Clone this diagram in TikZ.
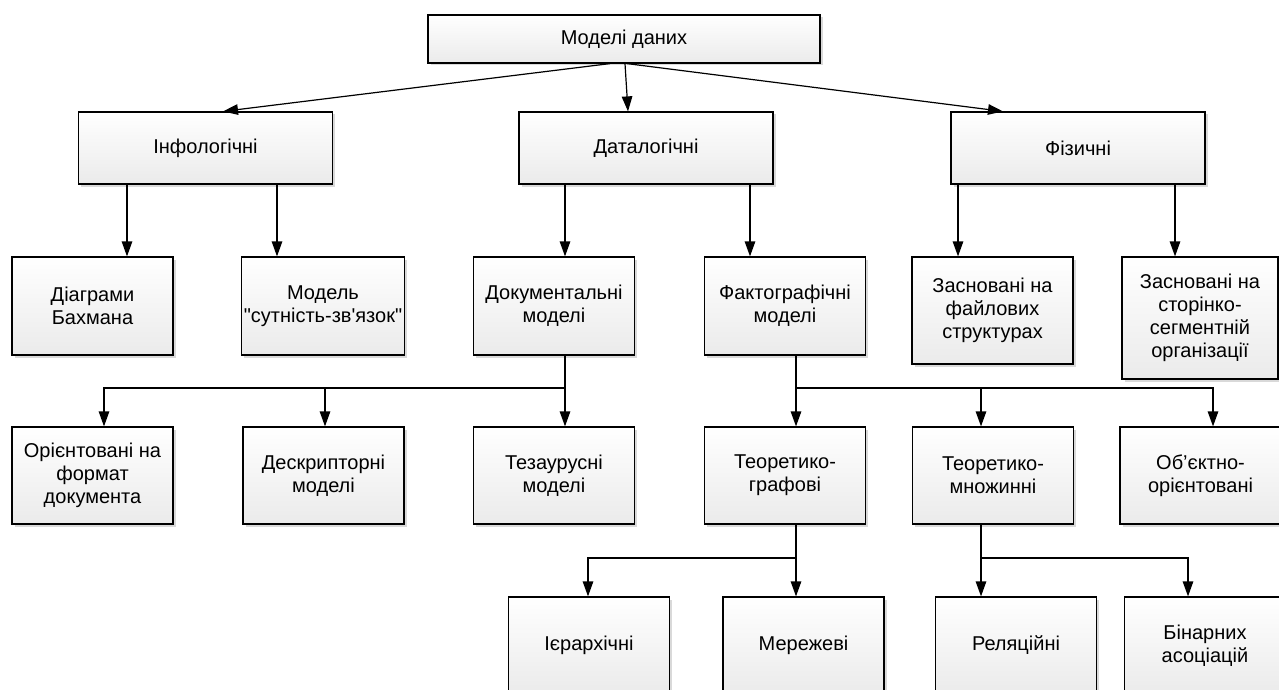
\documentclass[tikz,border=0pt]{standalone}
\usepackage{fontspec}
\setmainfont{Liberation Sans}[Ligatures=TeXOff]
\usetikzlibrary{arrows.meta,shadows}
\begin{document}
\begin{tikzpicture}[x=1pt,y=-1pt,
  box/.style={draw=black, line width=1.2pt, top color=white, bottom color=black!8,
    drop shadow={shadow xshift=2.5pt,shadow yshift=-2.5pt,fill=black!25,opacity=0.6},
    align=center, inner sep=2pt, font=\fontsize{20}{23}\selectfont},
  wide/.style={box, minimum width=254pt, minimum height=72pt},
  small/.style={box, minimum width=161pt, minimum height=97pt},
  arr/.style={line width=1.2pt, -{Triangle[length=15pt,width=10.5pt]}}]
\useasboundingbox (0,0) rectangle (1279,690);
% level 1
\node[box, minimum width=392pt, minimum height=48pt] (top) at (624,39) {Моделі даних};
% level 2
\node[wide] (inf) at (205.5,148) {Інфологічні};
\node[wide] (dat) at (646,148) {Даталогічні};
\node[wide] (fiz) at (1078,148) {Фізичні};
% level 3
\node[small, minimum height=98pt] (diag) at (92.5,306) {Діаграми\\Бахмана};
\node[small, minimum height=98pt] (erm) at (323,306) {Модель\\"сутність-зв'язок"};
\node[small, minimum height=98pt] (doc) at (554,306) {Документальні\\моделі};
\node[small, minimum height=98pt] (fact) at (785,306) {Фактографічні\\моделі};
\node[small, minimum height=107pt] (file) at (992.5,310.5) {Засновані на\\файлових\\структурах};
\node[small, minimum width=156pt, minimum height=122pt] (page) at (1200,318) {Засновані на\\сторінко-\\сегментній\\організації};
% level 4
\node[small] (orient) at (92.5,475.5) {Орієнтовані на\\формат\\документа};
\node[small] (descr) at (323.5,475.5) {Дескрипторні\\моделі};
\node[small] (tez) at (554,475.5) {Тезаурусні\\моделі};
\node[small] (tgraf) at (785,475.5) {Теоретико-\\графові};
\node[small] (tmn) at (993,475.5) {Теоретико-\\множинні};
\node[small] (obj) at (1200.5,475.5) {Об’єктно-\\орієнтовані};
% level 5
\node[small] (ier) at (589,645.5) {Ієрархічні};
\node[small] (mer) at (803.5,645.5) {Мережеві};
\node[small] (rel) at (1016,645.5) {Реляційні};
\node[small] (bin) at (1205,645.5) {Бінарних\\асоціацій};
% connectors level 1 -> 2
\draw[arr] (top.south -| 610,0) -- (inf.north -| 223,0);
\draw[arr] (top.south -| 625,0) -- (dat.north -| 628,0);
\draw[arr] (top.south -| 627,0) -- (fiz.north -| 1003,0);
% level 2 -> 3
\draw[arr] (inf.south -| 127,0) -- (diag.north -| 127,0);
\draw[arr] (inf.south -| 277,0) -- (erm.north -| 277,0);
\draw[arr] (dat.south -| 565,0) -- (doc.north -| 565,0);
\draw[arr] (dat.south -| 750,0) -- (fact.north -| 750,0);
\draw[arr] (fiz.south -| 958,0) -- (file.north -| 958,0);
\draw[arr] (fiz.south -| 1175,0) -- (page.north -| 1175,0);
% level 3 -> 4
\coordinate (jd) at (565,388);
\coordinate (jf) at (796,388);
\draw[arr] (doc.south -| jd) -- (tez.north -| jd);
\draw[arr] (jd) -| (orient.north -| 104,0);
\draw[arr] (jd) -| (descr.north -| 325,0);
\draw[arr] (fact.south -| jf) -- (tgraf.north -| jf);
\draw[arr] (jf) -| (tmn.north -| 981,0);
\draw[arr] (jf) -| (obj.north -| 1213,0);
% level 4 -> 5
\coordinate (jg) at (796,558);
\coordinate (jm) at (981,558);
\draw[arr] (tgraf.south -| jg) -- (mer.north -| jg);
\draw[arr] (jg) -| (ier.north -| 588,0);
\draw[arr] (tmn.south -| jm) -- (rel.north -| jm);
\draw[arr] (jm) -| (bin.north -| 1188,0);
\end{tikzpicture}
\end{document}
